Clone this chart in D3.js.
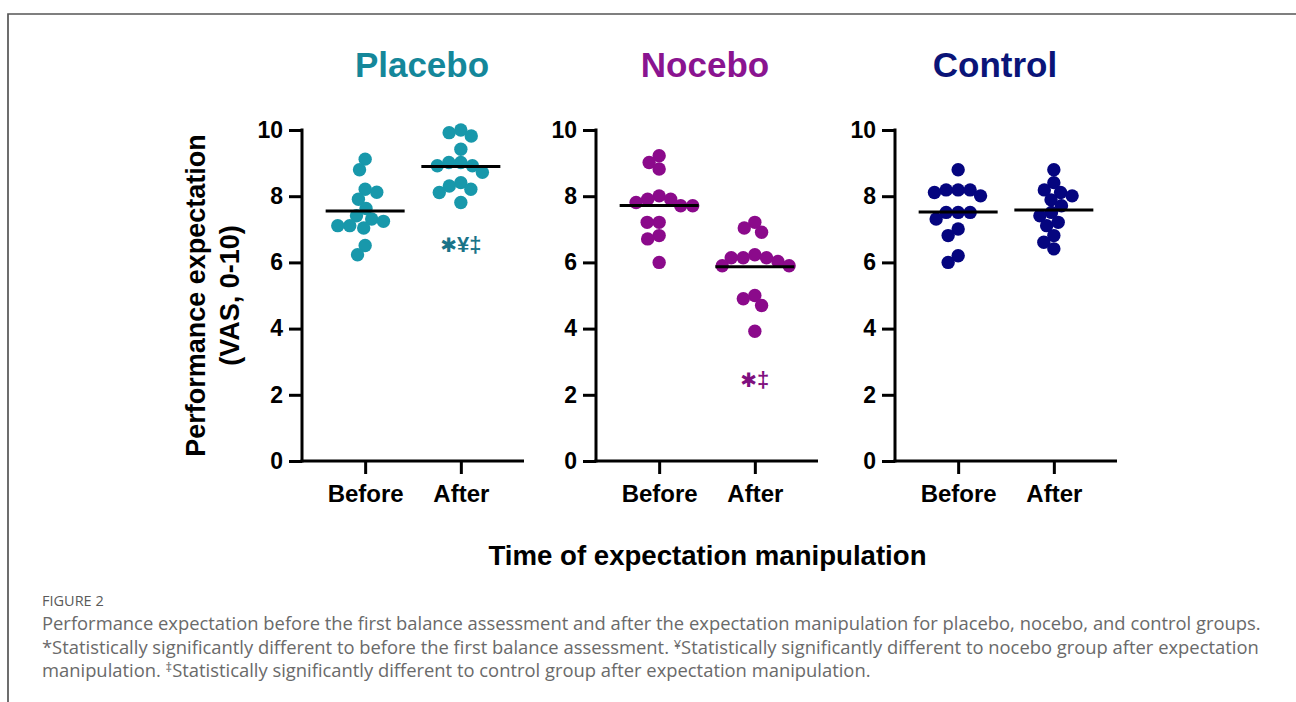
<!DOCTYPE html>
<html>
<head>
<meta charset="utf-8">
<script src="https://cdn.jsdelivr.net/npm/d3@7"></script>
<style>
  html, body { margin: 0; padding: 0; background: #fff; }
  svg { display: block; }
  .axis path, .axis line { stroke: #000; stroke-width: 3; }
  .axis text { font-family: "Liberation Sans", Arial, sans-serif; font-weight: 700; fill: #000; }
</style>
</head>
<body>
<div id="chart"></div>
<script>
'use strict';

// ── Data ────────────────────────────────────────────────────────────────────
const GROUPS     = ['Placebo', 'Nocebo', 'Control'];
const CATEGORIES = ['Before', 'After'];
const Y_TICKS    = [0, 2, 4, 6, 8, 10];

const placeboBefore = [9.12, 8.80, 8.21, 8.12, 7.91, 7.63, 7.41, 7.24, 7.31, 7.04, 7.11, 7.11, 6.51, 6.23];
const placeboAfter  = [9.92, 10.0, 9.82, 9.42, 9.02, 8.92, 8.92, 9.02, 8.72, 8.41, 8.31, 8.21, 8.11, 7.81];
const noceboBefore  = [9.22, 9.02, 8.82, 7.91, 7.91, 8.01, 7.71, 7.71, 7.81, 7.21, 7.21, 6.81, 6.71, 6.00];
const noceboAfter   = [7.21, 7.04, 6.91, 6.23, 5.90, 6.03, 6.14, 5.90, 6.14, 6.14, 5.00, 4.90, 4.70, 3.92];
const controlBefore = [8.80, 8.19, 8.01, 8.11, 8.19, 8.19, 7.51, 7.51, 7.51, 7.31, 7.01, 6.81, 6.20, 6.00];
const controlAfter  = [8.80, 8.19, 8.41, 8.11, 8.01, 7.89, 7.71, 7.51, 7.41, 7.21, 7.11, 6.81, 6.61, 6.41];

const SERIES = {
  Placebo: [placeboBefore, placeboAfter],
  Nocebo:  [noceboBefore, noceboAfter],
  Control: [controlBefore, controlAfter],
};

// significance marks (group, label, value level where it sits)
const MARK_GROUPS = ['Placebo', 'Nocebo'];
const MARK_LABELS = [['✱', '¥‡'], ['✱', '‡']];
const MARK_LEVELS = [6.5, 2.42];

const CAPTION_TITLE = 'FIGURE 2';
const CAPTION_LINES = [
  [['Performance expectation before the first balance assessment and after the expectation manipulation for placebo, nocebo, and control groups.', false]],
  [['*Statistically significantly different to before the first balance assessment. ', false], ['¥', true],
   ['Statistically significantly different to nocebo group after expectation', false]],
  [['manipulation. ', false], ['‡', true], ['Statistically significantly different to control group after expectation manipulation.', false]],
];

// ── Styling / layout ───────────────────────────────────────────────────────
const DOT_COLORS   = { Placebo: '#1898ab', Nocebo: '#8b0a8b', Control: '#05057f' };
const TITLE_COLORS = { Placebo: '#14879a', Nocebo: '#8a1490', Control: '#0a1478' };
const MARK_COLORS  = { Placebo: '#1a7388', Nocebo: '#80107f' };

const W = 1296, H = 702;
const AXIS_X   = [302, 596, 895];
const TITLE_DX = [120, 109, 100];
const PANEL_W  = 222;
const Y_TOP = 130, Y_BOT = 461;
const R = 6.7;
const SWARM_D = 12;
const FONT = '"Liberation Sans", Arial, Helvetica, sans-serif';

const svg = d3.select('#chart').append('svg')
  .attr('width', W).attr('height', H);

// frame (top and left rule of the figure box)
svg.append('path')
  .attr('d', `M8,${H} V14 H${W}`)
  .attr('fill', 'none')
  .attr('stroke', '#555')
  .attr('stroke-width', 1.7);

const y = d3.scaleLinear().domain([0, 10]).range([Y_BOT, Y_TOP]);
const x = d3.scalePoint().domain(CATEGORIES).range([0, PANEL_W]).padding(0.66);

// simple deterministic beeswarm: each dot goes to the nearest free spot to the centre
function swarm(values, cx) {
  const pts = values.map(v => ({ v, y: y(v) })).sort((a, b) => a.y - b.y);
  const placed = [];
  pts.forEach(p => {
    const cands = [cx];
    placed.forEach(q => {
      const dy = Math.abs(q.y - p.y);
      if (dy < SWARM_D) {
        const dx = Math.sqrt(SWARM_D * SWARM_D - dy * dy);
        cands.push(q.x - dx, q.x + dx);
      }
    });
    cands.sort((a, b) => Math.abs(a - cx) - Math.abs(b - cx) || a - b);
    const ok = cands.find(c => placed.every(q => Math.hypot(q.x - c, q.y - p.y) >= SWARM_D - 1e-6));
    p.x = ok;
    placed.push(p);
  });
  return placed;
}

GROUPS.forEach((grp, i) => {
  const g = svg.append('g').attr('transform', `translate(${AXIS_X[i]},0)`);

  // title
  g.append('text')
    .attr('x', TITLE_DX[i])
    .attr('y', 77)
    .attr('text-anchor', 'middle')
    .attr('font-family', FONT)
    .attr('font-weight', 700)
    .attr('font-size', 35)
    .attr('fill', TITLE_COLORS[grp])
    .text(grp);

  // y axis
  const ya = g.append('g').attr('class', 'axis')
    .call(d3.axisLeft(y).tickValues(Y_TICKS).tickSize(13).tickSizeOuter(0).tickPadding(6));
  ya.selectAll('text').attr('font-size', 23);

  // x axis
  const xa = g.append('g').attr('class', 'axis')
    .attr('transform', `translate(0,${Y_BOT})`)
    .call(d3.axisBottom(x).tickSize(13).tickSizeOuter(0).tickPadding(11));
  xa.selectAll('text').attr('font-size', 24);
  xa.select('.domain').attr('d', `M-1.5,0H${PANEL_W}`);
  ya.select('.domain').attr('d', `M0,${y(10) - 1.5}V${y(0) + 1.5}`);

  // dots + mean line
  CATEGORIES.forEach((cat, j) => {
    const vals = SERIES[grp][j];
    const cx = x(cat);
    g.append('g').selectAll('circle')
      .data(swarm(vals, cx))
      .join('circle')
      .attr('cx', d => d.x)
      .attr('cy', d => d.y)
      .attr('r', R)
      .attr('fill', DOT_COLORS[grp]);

    const m = d3.mean(vals);
    g.append('line')
      .attr('x1', cx - 39.5).attr('x2', cx + 39.5)
      .attr('y1', y(m)).attr('y2', y(m))
      .attr('stroke', '#000')
      .attr('stroke-width', 3);
  });

  // significance marks
  const k = MARK_GROUPS.indexOf(grp);
  if (k >= 0) {
    const t = g.append('text')
      .attr('x', x('After'))
      .attr('y', y(MARK_LEVELS[k]))
      .attr('dy', '0.36em')
      .attr('text-anchor', 'middle')
      .attr('font-weight', 700)
      .attr('fill', MARK_COLORS[grp]);
    t.append('tspan')
      .attr('font-family', '"DejaVu Sans", sans-serif')
      .attr('font-size', 20)
      .text(MARK_LABELS[k][0]);
    t.append('tspan')
      .attr('font-family', FONT)
      .attr('font-size', 22)
      .text(MARK_LABELS[k][1]);
  }
});

// y axis title
const yTitle = svg.append('text')
  .attr('transform', `translate(205,${(Y_TOP + Y_BOT) / 2}) rotate(-90)`)
  .attr('text-anchor', 'middle')
  .attr('font-family', FONT)
  .attr('font-weight', 700)
  .attr('font-size', 27);
yTitle.append('tspan').attr('x', 0).attr('y', 0).text('Performance expectation');
yTitle.append('tspan').attr('x', 0).attr('y', 34).text('(VAS, 0-10)');

// x axis title
svg.append('text')
  .attr('x', 707.5)
  .attr('y', 565)
  .attr('text-anchor', 'middle')
  .attr('font-family', FONT)
  .attr('font-weight', 700)
  .attr('font-size', 27.6)
  .text('Time of expectation manipulation');

// ── Caption ────────────────────────────────────────────────────────────────
const CAP_FONT = '"Open Sans", "Noto Sans", sans-serif';
svg.append('text')
  .attr('x', 42).attr('y', 606)
  .attr('font-family', CAP_FONT)
  .attr('font-size', 14.5)
  .attr('fill', '#5a5a5a')
  .text(CAPTION_TITLE);

const capLines = CAPTION_LINES.map((parts, i) => {
  const t = svg.append('text')
    .attr('x', 42).attr('y', 630 + i * 23.5)
    .attr('font-family', CAP_FONT)
    .attr('font-size', 16)
    .attr('fill', '#6a6a6a');
  parts.forEach(([s, sup]) => {
    const sp = t.append('tspan').text(s);
    if (sup) sp.attr('font-size', '0.7em').attr('baseline-shift', '35%');
  });
  return t;
});
// fit the first caption line to the width it takes in the figure
const w0 = capLines[0].node().getComputedTextLength();
const fs = 16 * 1220 / w0;
capLines.forEach(t => t.attr('font-size', fs));
</script>
</body>
</html>
